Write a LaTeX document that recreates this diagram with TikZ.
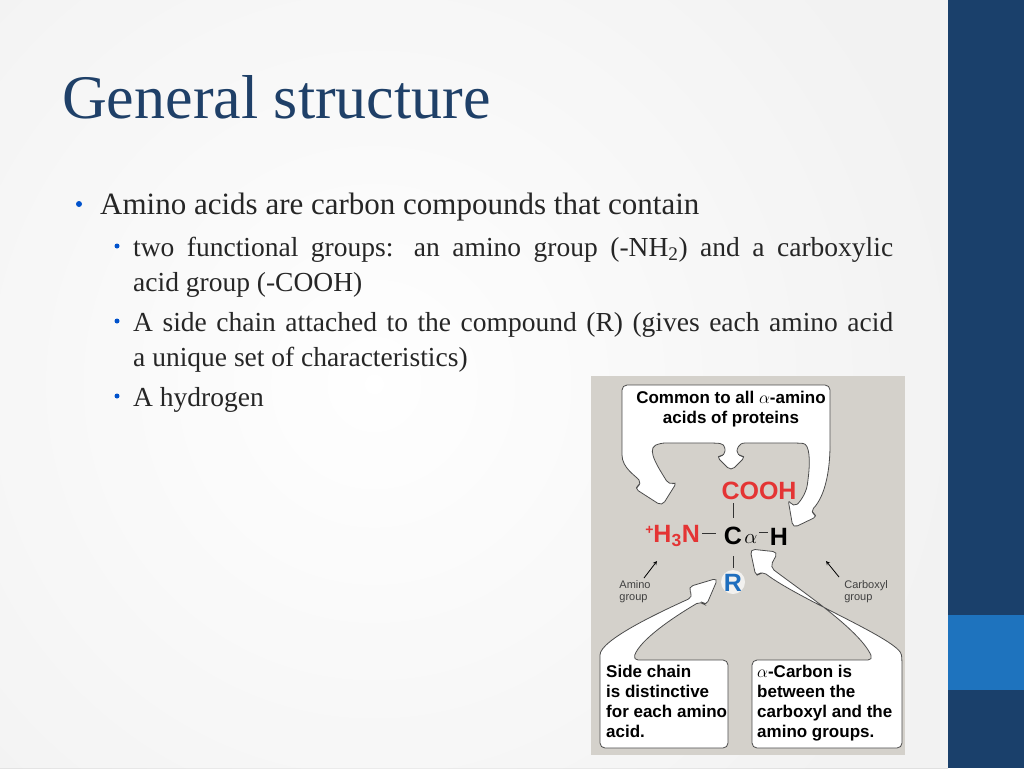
\documentclass[tikz,border=0pt]{standalone}
\usepackage{fontspec}
\setmainfont{Liberation Serif}
\newfontfamily\arial{Liberation Sans}
\usepackage{graphicx}
\begin{document}
\begin{tikzpicture}[x=1pt,y=-1pt,
  callout/.style={fill=white,draw=black!70,line width=0.8pt,rounded corners=5pt},
  fig/.style={font=\arial\bfseries\fontsize{17}{20}\selectfont,align=left,inner sep=0pt},
  chem/.style={font=\arial\bfseries\fontsize{25}{25}\selectfont,inner sep=0pt},
  small/.style={font=\arial\fontsize{11}{12}\selectfont,align=left,text=black!75,inner sep=0pt},
  body/.style={anchor=base west,inner sep=0pt,text=black!85},
  dot/.style={circle,fill=blue!60!cyan!80!black,inner sep=0pt,minimum size=6pt}]
\useasboundingbox (0,0) rectangle (1024,768);
\shade[inner color=white,outer color=black!12] (-200,-200) rectangle (948,968);
\fill[white,opacity=0.6] (0,0) rectangle (948,768);
\fill[fill={rgb,255:red,26;green,64;blue,107}] (948,0) rectangle (1024,768);
\fill[fill={rgb,255:red,30;green,115;blue,190}] (948,615) rectangle (1024,690);
% title
\node[anchor=base west,inner sep=0pt,text={rgb,255:red,31;green,64;blue,104}] (title) at (62,118)
  {\fontsize{62}{62}\selectfont General structure};
% bullets
\node[dot] (b1) at (79,204) {};
\node[body,font=\fontsize{31}{31}\selectfont] (t1) at (100,214) {Amino acids are carbon compounds that contain};
\node[dot,minimum size=5pt] (b2) at (117,246) {};
\node[body,font=\fontsize{27.5}{27.5}\selectfont] (t2) at (133,256) {\makebox[760pt][s]{two functional groups: an amino group (-NH\textsubscript{2}) and a carboxylic}};
\node[body,font=\fontsize{27.5}{27.5}\selectfont] (t2b) at (133,291) {acid group (-COOH)};
\node[dot,minimum size=5pt] (b3) at (117,321) {};
\node[body,font=\fontsize{27.5}{27.5}\selectfont] (t3) at (133,331) {\makebox[760pt][s]{A side chain attached to the compound (R) (gives each amino acid}};
\node[body,font=\fontsize{27.5}{27.5}\selectfont] (t3b) at (133,366) {a unique set of characteristics)};
\node[dot,minimum size=5pt] (b4) at (117,396) {};
\node[body,font=\fontsize{27.5}{27.5}\selectfont] (t4) at (133,406) {A hydrogen};
% figure
\fill[fill={rgb,255:red,212;green,209;blue,203}] (591,376) rectangle (905,755);
\draw[callout] (622,385) -- (622,450) .. controls (622,468) and (636,476) .. (642,484) -- (634,488) -- (662,506) -- (677,482) -- (669,485) .. controls (660,470) and (646,450) .. (660,443) -- (715,443) .. controls (726,444) and (725,452) .. (725,456) -- (716,456) -- (731,471) -- (746,456) -- (737,456) .. controls (737,450) and (738,443) .. (750,443) -- (798,443) .. controls (810,444) and (810,462) .. (808,480) .. controls (806,494) and (799,503) .. (793,507) -- (788,499) -- (793,528) -- (818,516) -- (810,512) .. controls (826,495) and (830,468) .. (830,440) -- (830,385) -- cycle;
\node[fig,align=center] (top) at (731,409) {Common to all $\alpha$-amino\\acids of proteins};
\draw[callout] (600,748) -- (600,660) .. controls (600,640) and (660,612) .. (693,597) -- (688,587) -- (718,578) -- (706,606) -- (701,601) .. controls (672,618) and (640,640) .. (633,660) -- (728,660) -- (728,748) -- cycle;
\node[fig,anchor=north west] (lbox) at (606,665) {Side chain\\is distinctive\\for each amino\\acid.};
\draw[callout] (752,748) -- (752,660) -- (873,660) .. controls (860,630) and (800,590) .. (770,567) -- (778,552) -- (750,549) -- (756,577) -- (762,571) .. controls (800,600) and (900,640) .. (902,660) -- (902,748) -- cycle;
\node[fig,anchor=north west] (rbox) at (757,665) {$\alpha$-Carbon is\\between the\\carboxyl and the\\amino groups.};
% chemistry
\fill[white,opacity=0.7] (733,582) circle (12);
\node[chem,text={rgb,255:red,228;green,52;blue,52}] (cooh) at (759,491) {COOH};
\node[chem,anchor=east,text={rgb,255:red,228;green,52;blue,52}] (n) at (700,536) {\raisebox{0.6ex}{\fontsize{14}{14}\selectfont +}H\textsubscript{3}N};
\node[chem] (c) at (733,536) {C};
\node[font=\fontsize{20}{20}\selectfont,inner sep=0pt] (al) at (751,539) {$\alpha$};
\node[chem] (h) at (779,537) {H};
\node[chem,text={rgb,255:red,30;green,110;blue,190}] (r) at (733,583) {R};
\draw[black!80,line width=0.8pt] (733,503) -- (733,518);
\draw[black!80,line width=0.8pt] (733,556) -- (733,568);
\draw[black!80,line width=0.8pt] (702,533) -- (716,533);
\draw[black!80,line width=0.8pt] (759,532) -- (768,532);
\node[small] (am) at (635,592) {Amino\\group};
\node[small] (cb) at (866,592) {Carboxyl\\group};
\coordinate (amt) at (657,561);
\coordinate (cbt) at (826,561);
\draw[-stealth,line width=0.8pt] (644,578) -- (amt);
\draw[-stealth,line width=0.8pt] (839,577) -- (cbt);
\end{tikzpicture}
\end{document}
